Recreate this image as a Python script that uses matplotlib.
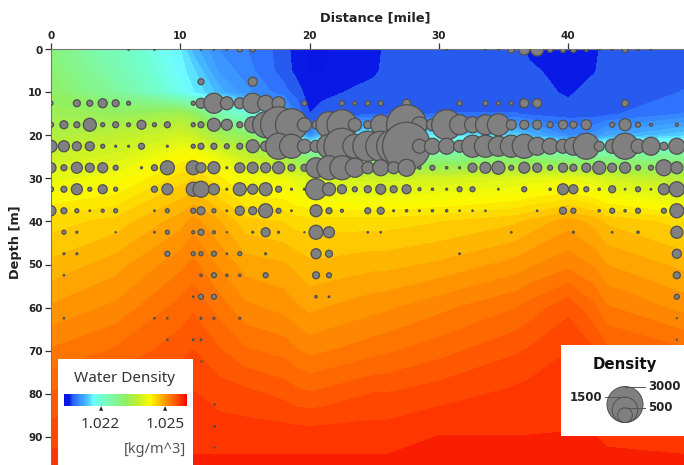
import numpy as np
import matplotlib

matplotlib.use("Agg")

import matplotlib.pyplot as plt
from matplotlib.colors import LinearSegmentedColormap
from matplotlib.patches import Circle

W, H = 684, 465
AX_L, AX_R, AX_T, AX_B = 51, 684, 49.5, 465
PX_PER_MILE = 12.93
PX_PER_M = 4.3

# water density grid, sigma units (density - 1) * 1000
grid_dist = [0, 5, 10, 11, 13, 15, 18, 19, 20, 21, 25, 26, 30, 36, 37, 40, 42, 43, 49]
grid_depth = [0, 5, 10, 15, 20, 25, 30, 40, 50, 60, 70, 80, 90, 97]
sigma_0 = [22.9, 22.25, 21.6, 21.3, 21.0, 20.9, 20.72, 20.5, 20.45, 20.45, 20.5, 20.7, 20.72, 20.72, 20.55, 20.45, 20.55, 20.72, 20.75]
sigma_5 = [23.0, 22.4, 21.65, 21.5, 21.1, 20.95, 20.72, 20.55, 20.45, 20.45, 20.58, 20.68, 20.72, 20.72, 20.68, 20.48, 20.6, 20.72, 20.75]
sigma_10 = [23.1, 22.6, 21.8, 21.6, 21.3, 21.05, 20.82, 20.72, 20.5, 20.56, 20.7, 20.72, 20.72, 20.72, 20.72, 20.58, 20.72, 20.72, 20.78]
sigma_15 = [23.3, 23.2, 23.4, 23.2, 22.4, 22.0, 21.3, 20.9, 20.62, 20.7, 20.75, 20.75, 20.78, 20.78, 20.75, 20.72, 20.72, 20.75, 20.9]
sigma_20 = [23.5, 23.7, 23.9, 23.8, 23.4, 23.15, 22.3, 21.6, 21.0, 21.4, 21.7, 21.7, 21.55, 21.45, 21.3, 21.0, 21.05, 21.2, 21.45]
sigma_25 = [23.8, 23.95, 24.3, 24.35, 24.1, 23.8, 23.4, 23.1, 22.9, 22.8, 22.7, 22.7, 22.7, 22.9, 22.9, 22.7, 22.7, 22.7, 22.7]
sigma_30 = [24.1, 24.2, 24.55, 24.6, 24.4, 24.2, 24.15, 24.05, 23.95, 23.9, 23.85, 23.85, 23.9, 24.0, 24.05, 24.1, 24.0, 23.9, 23.6]
sigma_40 = [24.55, 24.65, 24.9, 25.0, 24.85, 24.65, 24.6, 24.55, 24.55, 24.55, 24.55, 24.55, 24.6, 24.7, 24.75, 24.9, 24.8, 24.7, 24.55]
sigma_50 = [24.75, 24.9, 25.15, 25.22, 25.05, 24.9, 24.85, 24.8, 24.75, 24.75, 24.8, 24.8, 24.86, 25.0, 25.05, 25.15, 25.05, 24.95, 24.8]
sigma_60 = [24.97, 25.1, 25.35, 25.4, 25.25, 25.1, 25.03, 24.97, 24.92, 24.95, 25.03, 25.05, 25.15, 25.3, 25.35, 25.5, 25.33, 25.2, 25.03]
sigma_70 = [25.2, 25.32, 25.49, 25.54, 25.43, 25.32, 25.26, 25.2, 25.15, 25.17, 25.26, 25.28, 25.37, 25.52, 25.55, 25.65, 25.55, 25.45, 25.32]
sigma_80 = [25.43, 25.54, 25.66, 25.66, 25.6, 25.57, 25.5, 25.45, 25.43, 25.45, 25.54, 25.54, 25.6, 25.68, 25.7, 25.75, 25.7, 25.62, 25.54]
sigma_90 = [25.6, 25.66, 25.72, 25.72, 25.72, 25.72, 25.72, 25.72, 25.72, 25.72, 25.72, 25.72, 25.77, 25.77, 25.77, 25.77, 25.77, 25.75, 25.72]
sigma_97 = [25.72, 25.75, 25.77, 25.8, 25.8, 25.8, 25.8, 25.8, 25.8, 25.8, 25.8, 25.8, 25.82, 25.82, 25.82, 25.82, 25.82, 25.8, 25.8]

# plankton density samples per depth row: distances (mile) and values
row_depths = [0, 7.5, 12.5, 17.5, 22.5, 27.5, 32.5, 37.5, 42.5, 47.5, 52.5, 57.5, 62.5, 67.5, 72.5, 82.5, 87.5, 92.5]
dist_r0 = [6, 8, 11.6, 12.6, 13.6, 14.6, 15.6, 30.6, 33.6, 34.6, 35.6, 36.6, 37.6, 38.6, 39.6, 40.4, 41.4, 42.4, 43.4, 44.4, 45.4, 46.4]
dens_r0 = [6, 6, 6, 6, 6, 58, 58, 9, 6, 6, 113, 280, 391, 83, 83, 83, 37, 9, 9, 83, 13, 9]
dist_r1 = [11.6, 15.6]
dens_r1 = [83, 188]
dist_r2 = [0, 2, 3, 4, 5, 6, 11, 11.6, 12.6, 13.6, 14.6, 15.6, 16.6, 17.6, 19.6, 22.5, 23.5, 24.5, 25.5, 27.5, 31.6, 33.6, 34.6, 35.6, 36.6, 37.6, 44.4]
dens_r2 = [37, 113, 83, 188, 113, 37, 37, 231, 926, 391, 280, 926, 593, 391, 58, 58, 37, 58, 58, 148, 58, 58, 37, 37, 188, 188, 113]
dist_r3 = [0, 1, 2, 3, 4, 5, 6, 7, 8, 9, 11, 11.6, 12.6, 13.6, 14.6, 15.6, 16.6, 17.6, 18.6, 19.6, 20.5, 21.5, 22.5, 23.5, 24.5, 25.5, 27.5, 28.5, 29.5, 30.6, 31.6, 32.6, 33.6, 34.6, 35.6, 36.6, 37.6, 38.6, 39.6, 40.4, 41.4, 43.4, 44.4, 45.4, 46.4, 48.4]
dens_r3 = [58, 148, 83, 391, 37, 83, 37, 188, 37, 83, 37, 83, 391, 280, 83, 593, 1565, 3000, 2370, 454, 148, 1565, 2083, 391, 148, 926, 3700, 593, 333, 2083, 926, 593, 926, 1120, 231, 188, 188, 83, 188, 113, 231, 58, 333, 58, 21, 21]
dist_r4 = [0, 1, 2, 3, 4, 5, 6, 7, 9, 11, 11.6, 12.6, 13.6, 14.6, 15.6, 16.6, 17.6, 18.6, 19.6, 20.5, 21.5, 22.5, 23.5, 24.5, 25.5, 26.5, 27.5, 28.5, 29.5, 30.6, 31.6, 32.6, 33.6, 34.6, 35.6, 36.6, 37.6, 38.6, 39.6, 40.4, 41.4, 42.4, 43.4, 44.4, 45.4, 46.4, 47.4, 48.4]
dens_r4 = [333, 280, 188, 188, 37, 9, 9, 83, 9, 37, 83, 83, 58, 83, 391, 231, 1565, 1333, 454, 333, 1333, 3000, 1333, 2083, 2083, 2676, 5333, 454, 593, 593, 333, 1120, 1120, 926, 1120, 1333, 750, 593, 454, 750, 1565, 231, 454, 1565, 454, 750, 148, 593]
dist_r5 = [0, 1, 2, 3, 4, 5, 7, 8, 9, 11, 11.6, 12.6, 13.6, 14.6, 15.6, 16.6, 17.6, 18.6, 19.6, 20.5, 21.5, 22.5, 23.5, 24.5, 25.5, 26.5, 27.5, 28.5, 29.5, 30.6, 31.6, 32.6, 33.6, 34.6, 35.6, 36.6, 37.6, 38.6, 39.6, 40.4, 41.4, 42.4, 43.4, 44.4, 45.4, 46.4, 47.4, 48.4]
dens_r5 = [231, 83, 280, 188, 231, 58, 9, 83, 454, 454, 231, 333, 9, 231, 280, 231, 333, 113, 113, 926, 1333, 1333, 836, 333, 593, 333, 669, 21, 58, 13, 9, 188, 280, 391, 58, 280, 188, 58, 188, 113, 188, 391, 188, 280, 58, 58, 593, 333]
dist_r6 = [0, 1, 2, 3, 4, 5, 8, 9, 11, 11.6, 12.6, 13.6, 14.6, 15.6, 16.6, 17.6, 18.6, 19.6, 20.5, 21.5, 22.5, 23.5, 24.5, 25.5, 26.5, 27.5, 28.5, 29.5, 30.6, 31.6, 32.6, 34.6, 36.6, 38.6, 39.6, 40.4, 41.4, 42.4, 43.4, 44.4, 45.4, 46.4, 47.4, 48.4]
dens_r6 = [58, 83, 280, 37, 188, 37, 83, 280, 454, 593, 280, 9, 391, 231, 391, 83, 9, 9, 1021, 391, 188, 58, 113, 231, 113, 188, 21, 13, 9, 58, 58, 6, 58, 13, 280, 188, 58, 13, 113, 6, 58, 6, 280, 521]
dist_r7 = [0, 1, 2, 3, 4, 5, 8, 9, 11, 11.6, 12.6, 13.6, 14.6, 15.6, 16.6, 17.6, 18.6, 20.5, 21.5, 22.5, 24.5, 25.5, 26.5, 27.5, 28.5, 29.5, 30.6, 31.6, 32.6, 33.6, 37.6, 39.6, 40.4, 42.4, 43.4, 44.4, 45.4, 47.4, 48.4]
dens_r7 = [231, 83, 37, 6, 21, 37, 6, 37, 58, 148, 37, 6, 188, 148, 454, 58, 6, 333, 83, 21, 83, 113, 9, 13, 6, 13, 13, 5, 5, 5, 5, 113, 58, 13, 58, 13, 58, 58, 454]
dist_r8 = [1, 2, 5, 8, 9, 11, 11.6, 12.6, 13.6, 15.6, 16.6, 17.6, 19.6, 20.5, 21.5, 24.5, 25.5, 35.6, 40.4, 43.4, 45.4, 48.4]
dens_r8 = [37, 9, 3, 6, 37, 21, 83, 21, 3, 9, 188, 9, 3, 454, 280, 5, 5, 5, 9, 5, 13, 333]
dist_r9 = [1, 2, 9, 11, 11.6, 12.6, 13.6, 14.6, 16.6, 20.5, 21.5, 31.6, 48.4]
dens_r9 = [9, 9, 58, 37, 37, 58, 5, 37, 9, 231, 113, 6, 188]
dist_r10 = [1, 11.6, 12.6, 13.6, 14.6, 16.6, 20.5, 21.5, 48.4]
dens_r10 = [5, 13, 58, 13, 13, 58, 113, 58, 113]
dist_r11 = [11, 11.6, 12.6, 20.5, 21.5, 48.4]
dens_r11 = [5, 58, 58, 13, 6, 58]
dist_r12 = [1, 8, 9, 11.6, 12.6, 14.6, 48.4]
dens_r12 = [5, 5, 5, 9, 9, 9, 2]
dist_r13 = [9, 11, 11.6, 48.4]
dens_r13 = [5, 6, 6, 3]
dist_r14 = [11.6]
dens_r14 = [3]
dist_r15 = [12.6]
dens_r15 = [3]
dist_r16 = [12.6]
dens_r16 = [6]
dist_r17 = [12.6]
dens_r17 = [2]

x_ticks = [0, 10, 20, 30, 40]
y_ticks = [0, 10, 20, 30, 40, 50, 60, 70, 80, 90]
legend_sizes = [3000, 1500, 500]
cbar_ticks = [22.0, 25.0]
cbar_labels = ["1.022", "1.025"]

SIGMA_MIN, SIGMA_MAX = 20.3, 26.0
cmap = LinearSegmentedColormap.from_list(
    "water",
    [
        (0.0, "#0a14e6"),
        (0.042, "#0a1ae6"),
        (0.069, "#2a60f0"),
        (0.097, "#3078ff"),
        (0.125, "#3a90ff"),
        (0.16, "#40a8ff"),
        (0.2, "#50d0ff"),
        (0.24, "#70ffff"),
        (0.3, "#70ffd0"),
        (0.4, "#80f8a0"),
        (0.5, "#90f060"),
        (0.6, "#c0f030"),
        (0.7, "#fbfc00"),
        (0.76, "#ffd000"),
        (0.82, "#ff9900"),
        (0.9, "#ff6000"),
        (0.96, "#ff2c00"),
        (1.0, "#f00000"),
    ],
)


def radius_px(value):
    return 18 * np.sqrt(np.asarray(value, dtype=float) / 3000)


def fx(px):
    return px / W


def fy(py):
    return 1 - py / H


def px_axes(fig, left, top, right, bottom):
    return fig.add_axes([fx(left), fy(bottom), fx(right - left), (bottom - top) / H])


fig = plt.figure(figsize=(W / 100, H / 100), dpi=100)
ax = px_axes(fig, AX_L, AX_T, AX_R, AX_B)

sigma = np.array([sigma_0, sigma_5, sigma_10, sigma_15, sigma_20, sigma_25, sigma_30,
                  sigma_40, sigma_50, sigma_60, sigma_70, sigma_80, sigma_90, sigma_97])
# blue end keeps wide bands, the rest of the scale is finer
levels = np.concatenate([np.linspace(SIGMA_MIN, 20.775, 4), np.linspace(20.775, SIGMA_MAX, 46)[1:]])
ax.contourf(grid_dist, grid_depth, sigma, levels=levels, cmap=cmap, vmin=SIGMA_MIN, vmax=SIGMA_MAX, extend="both")

bubble_rows = [
    (dist_r0, dens_r0), (dist_r1, dens_r1), (dist_r2, dens_r2), (dist_r3, dens_r3), (dist_r4, dens_r4),
    (dist_r5, dens_r5), (dist_r6, dens_r6), (dist_r7, dens_r7), (dist_r8, dens_r8), (dist_r9, dens_r9),
    (dist_r10, dens_r10), (dist_r11, dens_r11), (dist_r12, dens_r12), (dist_r13, dens_r13), (dist_r14, dens_r14),
    (dist_r15, dens_r15), (dist_r16, dens_r16), (dist_r17, dens_r17),
]
for depth, (dists, values) in zip(row_depths, bubble_rows, strict=True):
    sizes = (2 * radius_px(values) * 72 / 100) ** 2
    ax.scatter(dists, [depth] * len(dists), s=sizes, c="#808080", edgecolors="#505050", linewidths=0.9, zorder=3)

ax.set_xlim(0, (AX_R - AX_L) / PX_PER_MILE)
ax.set_ylim((AX_B - AX_T) / PX_PER_M, 0)
ax.xaxis.tick_top()
ax.set_xticks(x_ticks)
ax.set_yticks(y_ticks)
for label in ax.get_xticklabels() + ax.get_yticklabels():
    label.set_fontweight("bold")
ax.tick_params(labelsize=7.5, length=4, width=0.9, color="#333333", pad=2, labelcolor="#222222")
for side in ("right", "bottom"):
    ax.spines[side].set_visible(False)
for side in ("top", "left"):
    ax.spines[side].set_color("#777777")
    ax.spines[side].set_linewidth(0.8)

fig.text(fx(375.5), fy(18), "Distance [mile]", ha="center", va="center", fontsize=9.3, fontweight="bold", color="#222222")
fig.text(fx(16), fy(242), "Depth [m]", ha="center", va="center", rotation=90, fontsize=9.3, fontweight="bold", color="#222222")

# water density legend
box = px_axes(fig, 58, 358.5, 193, 465)
box.set_xticks([])
box.set_yticks([])
box.set_facecolor("white")
for spine in box.spines.values():
    spine.set_visible(False)
fig.text(fx(125), fy(378), "Water Density", ha="center", va="center", fontsize=11, family="Noto Sans", color="#333333")

cbar = px_axes(fig, 64, 393.5, 187, 406)
cbar.imshow(np.linspace(0, 1, 256)[None, :], aspect="auto", cmap=cmap, extent=[SIGMA_MIN, SIGMA_MAX, 0, 1])
cbar.set_yticks([])
cbar.set_xticks([])
for spine in cbar.spines.values():
    spine.set_visible(False)
for tick, text in zip(cbar_ticks, cbar_labels, strict=True):
    pos = 64 + (tick - SIGMA_MIN) / (SIGMA_MAX - SIGMA_MIN) * 123
    fig.text(fx(pos), fy(424), text, ha="center", va="center", fontsize=11, family="Noto Sans", color="#333333")
    fig.text(fx(pos), fy(409), "\u25b2", ha="center", va="center", fontsize=4, color="#222222")
fig.text(fx(186), fy(449), "[kg/m^3]", ha="right", va="center", fontsize=10.5, family="Noto Sans", color="#555555")

# bubble size legend
size_box = px_axes(fig, 561, 345, 684, 435.5)
size_box.set_xlim(561, 684)
size_box.set_ylim(435.5, 345)
size_box.set_xticks([])
size_box.set_yticks([])
for spine in size_box.spines.values():
    spine.set_visible(False)
size_box.text(625, 364, "Density", ha="center", va="center", fontsize=10.8, fontweight="bold", color="#111111")
base_y = 422.5
for value in legend_sizes:
    r = float(radius_px(value))
    size_box.add_patch(Circle((625, base_y - r), r, facecolor="#808080", edgecolor="#505050", linewidth=0.7))
for value, x_end, x_text, ha in [(3000, 645, 648, "left"), (1500, 605, 602, "right"), (500, 645, 648, "left")]:
    y = base_y - 2 * float(radius_px(value))
    size_box.plot([625, x_end], [y, y], color="#555555", linewidth=0.7)
    size_box.text(x_text, y, str(value), ha=ha, va="center", fontsize=8.5, fontweight="bold", color="#222222")

fig.savefig("out.png", dpi=100)
plt.close(fig)
